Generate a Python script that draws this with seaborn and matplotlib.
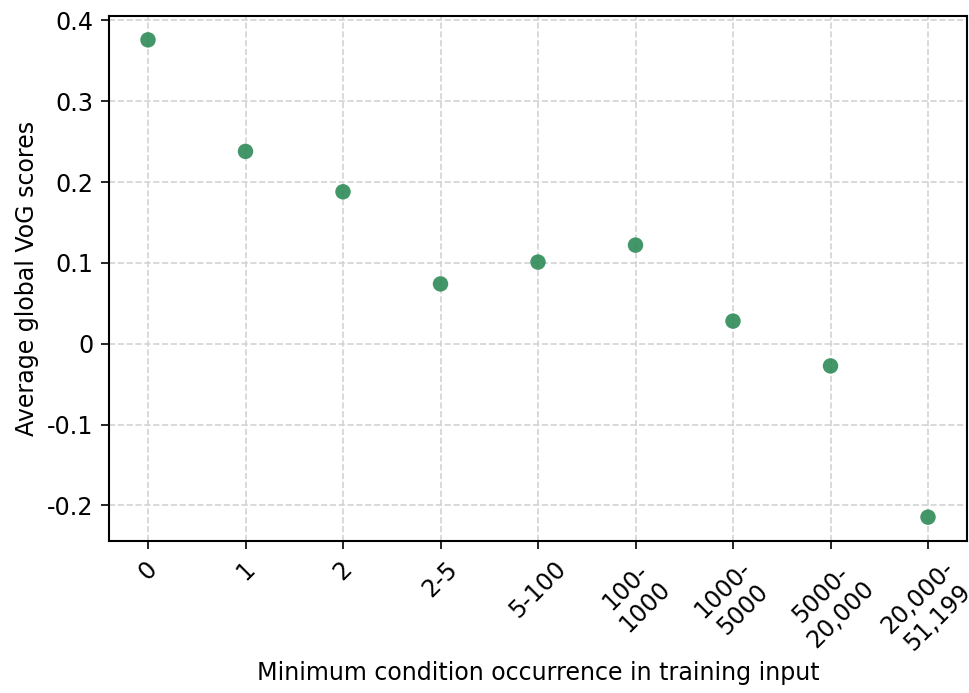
import matplotlib
matplotlib.use("Agg")
import matplotlib.pyplot as plt
import seaborn as sns
import pandas as pd
from matplotlib.ticker import FuncFormatter

categories = ["0", "1", "2", "2-5", "5-100", "100-\n1000", "1000-\n5000",
              "5000-\n20,000", "20,000-\n51,199"]
vog_scores = [0.376, 0.238, 0.188, 0.074, 0.101, 0.122, 0.028, -0.0275, -0.2146]

df = pd.DataFrame({"pos": range(len(categories)), "score": vog_scores})

sns.set_style("ticks")
plt.rcParams["font.family"] = ["DejaVu Sans"]
plt.rcParams["text.color"] = "black"
plt.rcParams["axes.labelcolor"] = "black"
plt.rcParams["xtick.color"] = "black"
plt.rcParams["ytick.color"] = "black"

fig, ax = plt.subplots(figsize=(6.46, 4.62), dpi=150)
fig.subplots_adjust(left=109 / 969, right=967 / 969, top=1 - 16 / 693, bottom=1 - 541 / 693)

sns.scatterplot(data=df, x="pos", y="score", ax=ax, color="seagreen",
                alpha=0.9, s=55, edgecolor="none", zorder=3)

ax.set_xticks(range(len(categories)))
ax.set_xticklabels(categories, rotation=45, ha="center", fontsize=11.4)
ax.set_yticks([-0.2, -0.1, 0, 0.1, 0.2, 0.3, 0.4])


def fmt(v, _):
    if abs(v) < 1e-9:
        return "0"
    return f"{v:.1f}"


ax.yaxis.set_major_formatter(FuncFormatter(fmt))
ax.tick_params(axis="both", labelsize=11.4, direction="out", length=4, colors="black")
ax.grid(True, linestyle="--", color="lightgray", linewidth=0.8)
ax.set_axisbelow(True)

ax.set_xlabel("Minimum condition occurrence in training input", fontsize=11.4, labelpad=1)
ax.set_ylabel("Average global VoG scores", fontsize=11.4, labelpad=4)

for spine in ax.spines.values():
    spine.set_visible(True)
    spine.set_color("black")
    spine.set_linewidth(1.0)

fig.savefig("out.png", dpi=150)
